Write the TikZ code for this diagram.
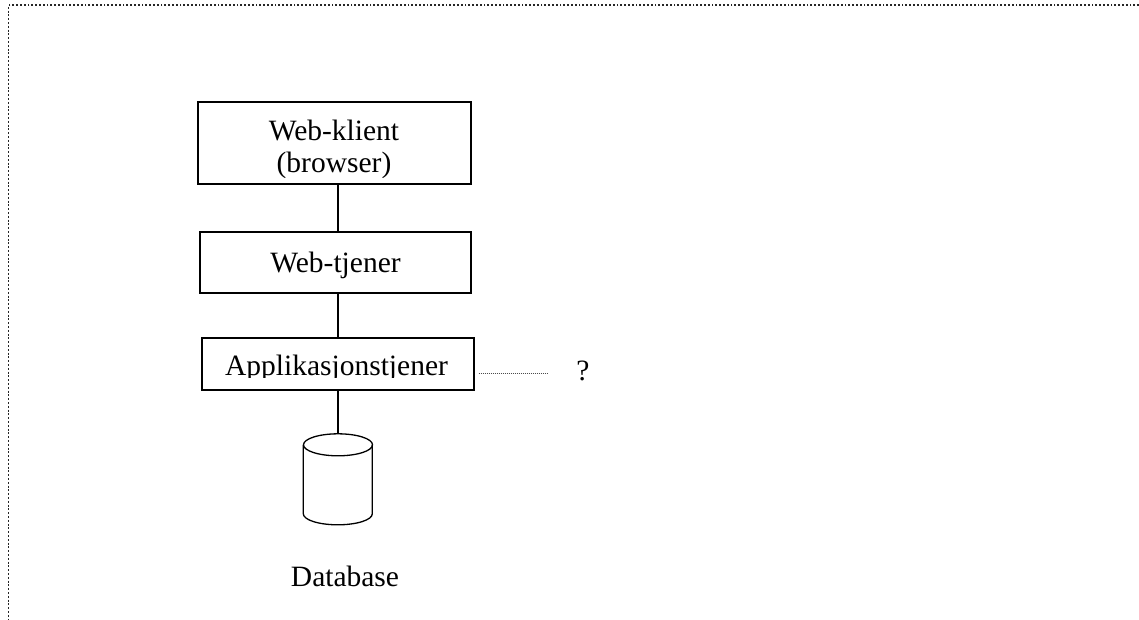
\documentclass[tikz,border=0pt]{standalone}
\usepackage{fontspec}
\setmainfont{Liberation Serif}
\usetikzlibrary{calc}
\begin{document}
\begin{tikzpicture}[x=1pt,y=-1pt,
  box/.style={draw,line width=1.3pt,inner sep=0pt},
  lbl/.style={font=\fontsize{29.5}{32}\selectfont,inner sep=0pt,anchor=base},
  conn/.style={line width=1.3pt},
  dotconn/.style={line width=0.9pt,dash pattern=on 0.9pt off 1.1pt,black!70},
  frame/.style={line width=1.9pt,dash pattern=on 1.9pt off 1.9pt,black!85}]
\useasboundingbox (0,0) rectangle (1139,619);
\draw[frame] (1139,5) -- (8.5,5) -- (8.5,619);
% boxes
\node[box,minimum width=273,minimum height=82] (klient) at (334.5,143) {};
\node[box,minimum width=271,minimum height=61] (tjener) at (335.5,262.5) {};
\node[box,minimum width=272,minimum height=52] (app) at (338,364) {};
% database cylinder
\node[inner sep=0pt,minimum width=69,minimum height=91] (db) at (338,479.5) {};
\draw[conn,fill=white] (db.north west) ++(0,11) -- ++(0,69)
  arc[start angle=180,end angle=360,x radius=34.5,y radius=-11] -- ++(0,-69);
\draw[conn] ($(db.north)+(0,11)$) ellipse[x radius=34.5,y radius=11];
% texts
\begin{scope}
\clip (klient.north west) rectangle (klient.east |- 0,177);
\node[lbl] (t1) at (334,140) {Web-klient};
\node[lbl] (t2) at (334,172) {(browser)};
\end{scope}
\node[lbl] (t3) at (335.5,272) {Web-tjener};
\begin{scope}
\clip (app.north west) rectangle (app.east |- 0,377);
\node[lbl] (t4) at (336.5,375) {Applikasjonstjener};
\end{scope}
\node[lbl] (q) at (583,380) {?};
\node[lbl] (dbl) at (345,586) {Database};
% connectors
\draw[conn] (klient.south -| app.north) -- (tjener.north -| app.north);
\draw[conn] (tjener.south -| app.north) -- (app.north);
\draw[conn] (app.south) -- (db.north);
\coordinate (qend) at (547,373);
\draw[dotconn] ([xshift=4pt]app.east |- qend) -- (qend);
\end{tikzpicture}
\end{document}
